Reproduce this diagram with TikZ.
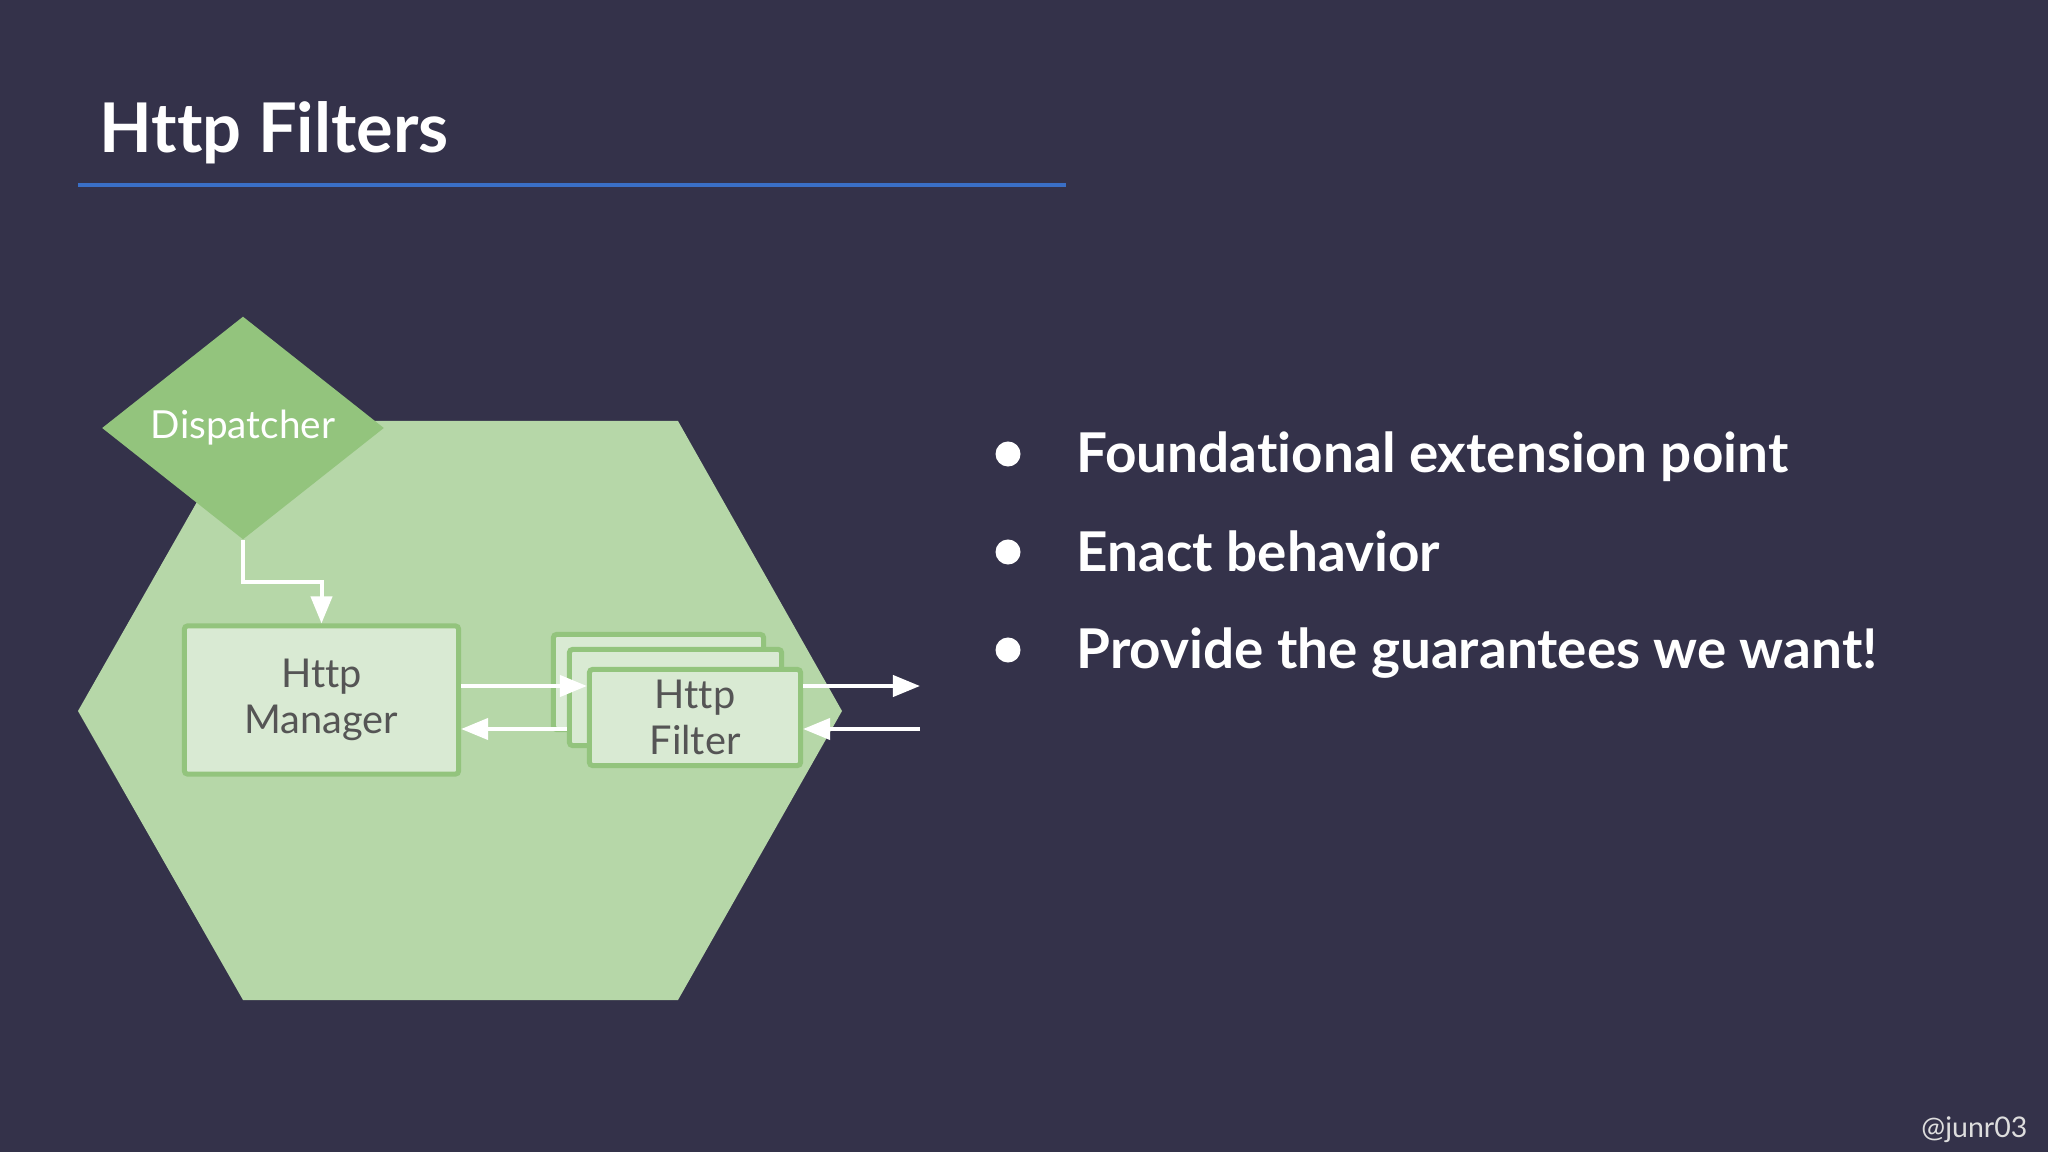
\documentclass[tikz,border=0pt]{standalone}
\usepackage{fontspec}
\setmainfont{Lato}[Ligatures=NoCommon]
\usetikzlibrary{shapes.geometric,arrows.meta}

\definecolor{slidebg}{HTML}{34324A}
\definecolor{ruleblue}{HTML}{3A6FC6}
\definecolor{hexgreen}{HTML}{B6D7A8}
\definecolor{diagreen}{HTML}{93C47D}
\definecolor{boxfill}{HTML}{D9EAD3}
\definecolor{boxline}{HTML}{93C47D}
\definecolor{boxtext}{HTML}{555555}
\definecolor{tagtext}{HTML}{DDDDDD}

\tikzset{
	box/.style={draw=boxline, fill=boxfill, line width=0.05cm, rounded corners=0.03cm,
		text=boxtext, align=center, inner sep=0pt,
		font=\fontsize{11.3}{13.3}\selectfont},
	flow/.style={white, line width=0.04cm, -{Triangle[length=0.27cm,width=0.21cm]}},
	bullet/.style={circle, fill=white, minimum size=0.25cm, inner sep=0pt},
	item/.style={anchor=base west, inner sep=0pt, text=white, font=\fontsize{15.6}{19}\selectfont\bfseries}
}

\begin{document}
\begin{tikzpicture}[x=0.01cm,y=-0.01cm]
		%background
		\useasboundingbox (0,0) rectangle (2048,1152);
		\fill[slidebg] (0,0) rectangle (2048,1152);
		%title
		\node[anchor=base west, inner sep=0pt, text=white, font=\fontsize{19.5}{24}\selectfont\bfseries] (title) at (99,153) {Http Filters};
		\draw[ruleblue, line width=0.04cm] (78,185) -- (1066,185);

		%hexagon
		\fill[hexgreen] (243,421) -- (678,421) -- (842,711) -- (678,1000) -- (243,1000) -- (78,711) -- cycle;
		%dispatcher
		\node[diamond, fill=diagreen, minimum width=2.82cm, minimum height=2.23cm, inner sep=0pt,
			text=white, font=\fontsize{11}{13}\selectfont] (disp) at (243,428) {Dispatcher};
		%manager + filters
		\node[box, minimum width=2.74cm, minimum height=1.48cm] (mgr) at (321.5,700) {Http\\Manager};
		\node[box, minimum width=2.10cm, minimum height=0.95cm] (filterA) at (658.5,682) {};
		\node[box, minimum width=2.12cm, minimum height=0.96cm] (filterB) at (675.5,697.5) {};
		\node[box, minimum width=2.11cm, minimum height=0.96cm] (filter) at (695,717.5) {Http\\Filter};

		%arrows
		\coordinate (fwd) at (0,686);
		\coordinate (bwd) at (0,729);
		\coordinate (outR) at (920,686);
		\coordinate (inR) at (920,729);
		\draw[flow] (disp.south) -- ++(0,42) -| (mgr.north);
		\draw[flow] (mgr.east |- fwd) -- (filter.west |- fwd);
		\draw[flow] (filterB.west |- bwd) -- (mgr.east |- bwd);
		\draw[flow] (filter.east |- outR) -- (outR);
		\draw[flow] (inR) -- (filter.east |- inR);

		%bullets
		\node[bullet] (dot1) at (1008,454) {};
		\node[item] (item1) at (1076,473) {Foundational extension point};
		\node[bullet] (dot2) at (1008,552) {};
		\node[item] (item2) at (1076,571) {Enact behavior};
		\node[bullet] (dot3) at (1008,650) {};
		\node[item] (item3) at (1076,669) {Provide the guarantees we want!};

		%handle
		\node[anchor=base east, inner sep=0pt, text=tagtext, font=\fontsize{8.1}{10}\selectfont] (handle) at (2028,1137) {@junr03};
	\end{tikzpicture}
\end{document}
